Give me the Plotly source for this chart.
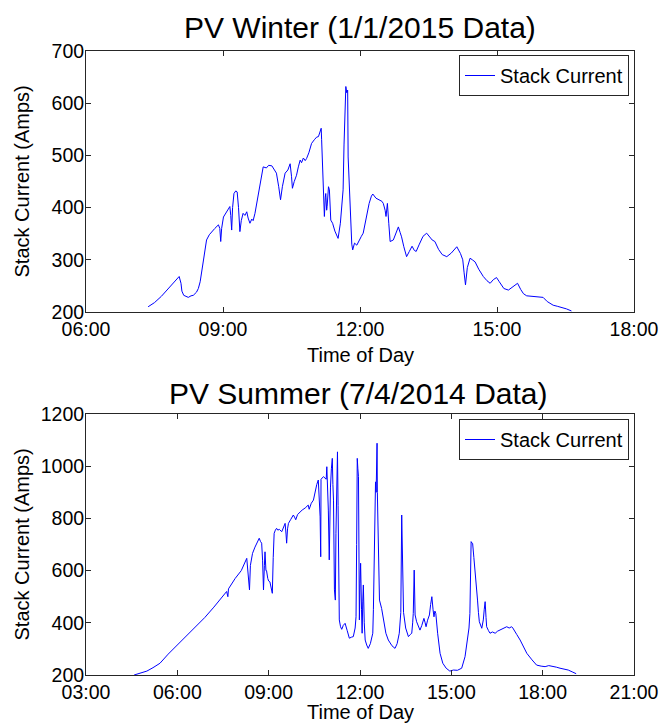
import plotly.graph_objects as go

# ---------------- data ----------------
winter_title = "PV Winter (1/1/2015 Data)"
summer_title = "PV Summer (7/4/2014 Data)"
series_name = "Stack Current"
x_label = "Time of Day"
y_label = "Stack Current (Amps)"

winter_tickvals = [6, 9, 12, 15, 18]
winter_ticktext = ["06:00", "09:00", "12:00", "15:00", "18:00"]
winter_yticks = [200, 300, 400, 500, 600, 700]

summer_tickvals = [3, 6, 9, 12, 15, 18, 21]
summer_ticktext = ["03:00", "06:00", "09:00", "12:00", "15:00", "18:00", "21:00"]
summer_yticks = [200, 400, 600, 800, 1000, 1200]

winter_hours = [
    7.36, 7.50, 7.65, 7.80, 7.95, 8.04, 8.08, 8.10, 8.14, 8.20, 8.24, 8.30, 8.35, 8.42, 8.46, 8.50,
    8.53, 8.57, 8.61, 8.64, 8.70, 8.75, 8.82, 8.90, 8.93, 8.95, 8.97, 9.01, 9.08, 9.15, 9.17, 9.19,
    9.21, 9.24, 9.28, 9.31, 9.34, 9.37, 9.40, 9.44, 9.48, 9.52, 9.55, 9.59, 9.63, 9.66, 9.70, 9.74,
    9.80, 9.85, 9.88, 9.95, 10.00, 10.07, 10.12, 10.17, 10.22, 10.26, 10.30, 10.36, 10.42, 10.47,
    10.50, 10.52, 10.56, 10.61, 10.65, 10.69, 10.72, 10.76, 10.80, 10.83, 10.88, 10.94, 11.00, 11.05,
    11.09, 11.12, 11.15, 11.16, 11.19, 11.22, 11.24, 11.25, 11.27, 11.28, 11.31, 11.33, 11.36, 11.40,
    11.45, 11.52, 11.57, 11.61, 11.63, 11.65, 11.67, 11.69, 11.71, 11.73, 11.74, 11.78, 11.82, 11.84,
    11.88, 11.93, 11.98, 12.03, 12.07, 12.12, 12.16, 12.20, 12.25, 12.28, 12.35, 12.42, 12.48, 12.51,
    12.55, 12.57, 12.59, 12.60, 12.63, 12.66, 12.73, 12.80, 12.84, 12.88, 12.91, 12.96, 13.02, 13.08,
    13.14, 13.19, 13.23, 13.30, 13.38, 13.46, 13.52, 13.58, 13.64, 13.72, 13.80, 13.90, 14.00, 14.12,
    14.20, 14.25, 14.28, 14.31, 14.35, 14.41, 14.46, 14.52, 14.60, 14.70, 14.78, 14.85, 14.92, 14.99,
    15.05, 15.15, 15.25, 15.35, 15.45, 15.52, 15.58, 15.65, 15.80, 15.95, 16.01, 16.10, 16.23, 16.32,
    16.42, 16.52, 16.63,
]
winter_amps = [
    210, 218, 230, 245, 258, 268, 255, 240, 232, 230, 228, 231, 232, 238, 245, 258,
    274, 300, 325, 338, 348, 354, 360, 367, 360, 335, 360, 382, 392, 402, 385, 357,
    400, 427, 432, 430, 400, 354, 375, 389, 385, 392, 380, 370, 378, 375, 389, 408,
    440, 465, 478, 476, 481, 480, 472, 466, 440, 415, 440, 466, 472, 484,
    460, 437, 450, 462, 478, 491, 486, 495, 490, 494, 505, 523, 530, 535,
    536, 545, 552, 530, 460, 383, 420, 427, 395, 402, 440, 434, 376, 370,
    355, 341, 370, 410, 434, 520, 574, 632, 620, 625, 497, 400, 330, 319,
    332, 328, 338, 345, 351, 372, 392, 408, 422, 426, 418, 414, 412, 408,
    395, 383, 405, 408, 370, 335, 338, 355, 363, 352, 344, 325, 306, 316,
    326, 318, 316, 330, 345, 351, 345, 338, 335, 320, 310, 306, 313, 325,
    312, 300, 275, 252, 285, 303, 300, 296, 282, 268, 260, 255, 262, 266,
    258, 245, 242, 248, 255, 243, 235, 231, 230, 228, 228, 220, 213, 211,
    209, 206, 202,
]

summer_hours = [
    4.58, 4.80, 5.00, 5.20, 5.43, 5.70, 6.00, 6.30, 6.60, 6.90, 7.20, 7.50, 7.62, 7.66, 7.68, 7.90,
    8.10, 8.28, 8.31, 8.34, 8.37, 8.40, 8.44, 8.47, 8.55, 8.62, 8.69, 8.73, 8.77, 8.80, 8.83, 8.86,
    8.88, 8.91, 8.93, 8.97, 9.00, 9.04, 9.08, 9.12, 9.15, 9.18, 9.22, 9.26, 9.30, 9.35, 9.43, 9.50,
    9.54, 9.57, 9.59, 9.62, 9.65, 9.72, 9.81, 9.85, 9.89, 9.95, 10.03, 10.10, 10.20, 10.30, 10.33,
    10.40, 10.47, 10.52, 10.58, 10.63, 10.66, 10.69, 10.71, 10.72, 10.80, 10.85, 10.89, 10.91, 10.94,
    10.96, 10.99, 11.01, 11.03, 11.06, 11.09, 11.11, 11.13, 11.16, 11.19, 11.21, 11.24, 11.26, 11.28,
    11.29, 11.32, 11.36, 11.40, 11.45, 11.51, 11.58, 11.65, 11.72, 11.78, 11.84, 11.87, 11.89, 11.91,
    11.93, 11.95, 11.97, 11.98, 12.00, 12.02, 12.05, 12.07, 12.09, 12.11, 12.14, 12.17, 12.22, 12.27,
    12.34, 12.42, 12.44, 12.46, 12.48, 12.49, 12.51, 12.53, 12.55, 12.56, 12.57, 12.59, 12.62, 12.64,
    12.71, 12.78, 12.85, 12.93, 13.05, 13.15, 13.22, 13.29, 13.34, 13.37, 13.39, 13.40, 13.43, 13.50,
    13.59, 13.65, 13.70, 13.73, 13.75, 13.78, 13.80, 13.81, 13.86, 13.92, 13.97, 14.03, 14.10, 14.14,
    14.17, 14.22, 14.28, 14.32, 14.36, 14.40, 14.43, 14.46, 14.49, 14.55, 14.63, 14.72, 14.83, 14.95,
    15.07, 15.20, 15.34, 15.45, 15.54, 15.58, 15.61, 15.63, 15.65, 15.68, 15.70, 15.74, 15.78, 15.82,
    15.86, 15.89, 15.92, 16.00, 16.03, 16.05, 16.08, 16.11, 16.14, 16.16, 16.22, 16.27, 16.35, 16.44,
    16.52, 16.60, 16.70, 16.82, 16.90, 16.98, 17.02, 17.05, 17.15, 17.26, 17.38, 17.48, 17.65, 17.80,
    17.95, 18.08, 18.20, 18.35, 18.45, 18.57, 18.70, 18.84, 18.97, 19.10,
]
summer_amps = [
    200, 207, 215, 228, 245, 280, 315, 350, 385, 420, 460, 500, 520, 500, 530, 570,
    600, 647, 610, 560, 526, 620, 640, 666, 690, 710, 724, 712, 705, 640, 526, 620,
    672, 600, 600, 570, 560, 557, 540, 513, 650, 743, 755, 762, 755, 758, 749, 770,
    781, 740, 705, 760, 781, 795, 813, 805, 795, 815, 826, 832, 840, 851, 835,
    858, 870, 900, 930, 947, 880, 806, 653, 950, 960, 955, 950, 998, 900,
    832, 641, 800, 920, 990, 1030, 930, 870, 526, 487, 743, 900, 1055, 850,
    718, 411, 385, 375, 390, 398, 370, 341, 345, 347, 380, 423, 700, 1030,
    990, 960, 700, 411, 550, 628, 450, 360, 480, 545, 400, 334, 315, 302,
    320, 360, 450, 590, 800, 870, 940, 900, 1000, 1088, 900, 743, 560, 487,
    455, 400, 360, 334, 312, 302, 320, 360, 440, 813, 650, 615, 440, 380,
    347, 355, 360, 400, 436, 602, 500, 430, 404, 385, 372, 390, 417, 400,
    385, 410, 430, 470, 500, 450, 423, 445, 436, 360, 283, 245, 226, 215,
    219, 218, 226, 270, 334, 380, 436, 600, 711, 705, 704, 650, 602, 540,
    487, 440, 404, 379, 400, 411, 450, 481, 420, 385, 370, 360, 365, 360,
    368, 372, 378, 385, 380, 385, 380, 375, 355, 334, 305, 283, 258, 238,
    234, 232, 236, 234, 230, 226, 222, 219, 212, 205,
]

# ---------------- figure ----------------
W, H = 662, 723
FONT = "Liberation Sans, Arial, Helvetica, sans-serif"
LINE_BLUE = "#0000ff"
AX = "#262626"

def px_x(p):
    return p / W

def px_y(p):
    return 1 - p / H

fig = go.Figure()
fig.add_trace(go.Scatter(x=winter_hours, y=winter_amps, mode="lines", name=series_name,
                         line=dict(color=LINE_BLUE, width=1), xaxis="x", yaxis="y",
                         legend="legend"))
fig.add_trace(go.Scatter(x=summer_hours, y=summer_amps, mode="lines", name=series_name,
                         line=dict(color=LINE_BLUE, width=1), xaxis="x2", yaxis="y2",
                         legend="legend2"))

axis_common = dict(showline=True, linecolor=AX, linewidth=1, mirror="ticks",
                   ticks="inside", ticklen=5, tickcolor=AX, tickwidth=1,
                   showgrid=False, zeroline=False, automargin=False,
                   tickfont=dict(family=FONT, size=19.5, color="black"))
yaxis_extra = dict(ticklabelstandoff=-3)

xdom = [px_x(86), px_x(634)]
fig.update_layout(
    template="none",
    width=W, height=H, autosize=False,
    margin=dict(l=0, r=0, t=0, b=0, pad=0),
    paper_bgcolor="white", plot_bgcolor="white",
    font=dict(family=FONT, color="black"),
    showlegend=True,
    xaxis=dict(domain=xdom, range=[6, 18], tickvals=winter_tickvals,
               ticktext=winter_ticktext, anchor="y", **axis_common),
    yaxis=dict(domain=[px_y(312), px_y(51)], range=[200, 700], tickvals=winter_yticks,
               anchor="x", **axis_common, **yaxis_extra),
    xaxis2=dict(domain=xdom, range=[3, 21], tickvals=summer_tickvals,
                ticktext=summer_ticktext, anchor="y2", **axis_common),
    yaxis2=dict(domain=[px_y(675), px_y(414)], range=[200, 1200], tickvals=summer_yticks,
                anchor="x2", **axis_common, **yaxis_extra),
    legend=dict(x=px_x(629), y=px_y(55), xanchor="right", yanchor="top",
                bgcolor="white", bordercolor=AX, borderwidth=1,
                font=dict(family=FONT, size=20, color="black")),
    legend2=dict(x=px_x(629), y=px_y(419), xanchor="right", yanchor="top",
                 bgcolor="white", bordercolor=AX, borderwidth=1,
                 font=dict(family=FONT, size=20, color="black")),
)

annots = [
    dict(text=winter_title, x=px_x(360), y=px_y(28), font=dict(size=30)),
    dict(text=summer_title, x=px_x(358), y=px_y(394), font=dict(size=30)),
    dict(text=x_label, x=px_x(360), y=px_y(355), font=dict(size=20)),
    dict(text=x_label, x=px_x(360), y=px_y(712), font=dict(size=20)),
    dict(text=y_label, x=px_x(21), y=px_y(181.5), font=dict(size=20), textangle=-90),
    dict(text=y_label, x=px_x(21), y=px_y(544.5), font=dict(size=20), textangle=-90),
]
for a in annots:
    a["font"].update(family=FONT, color="black")
    fig.add_annotation(xref="paper", yref="paper", xanchor="center", yanchor="middle",
                       showarrow=False, **a)

fig.write_html("out.html", config={"displayModeBar": False},
               post_script="document.body.style.margin='0px';")
